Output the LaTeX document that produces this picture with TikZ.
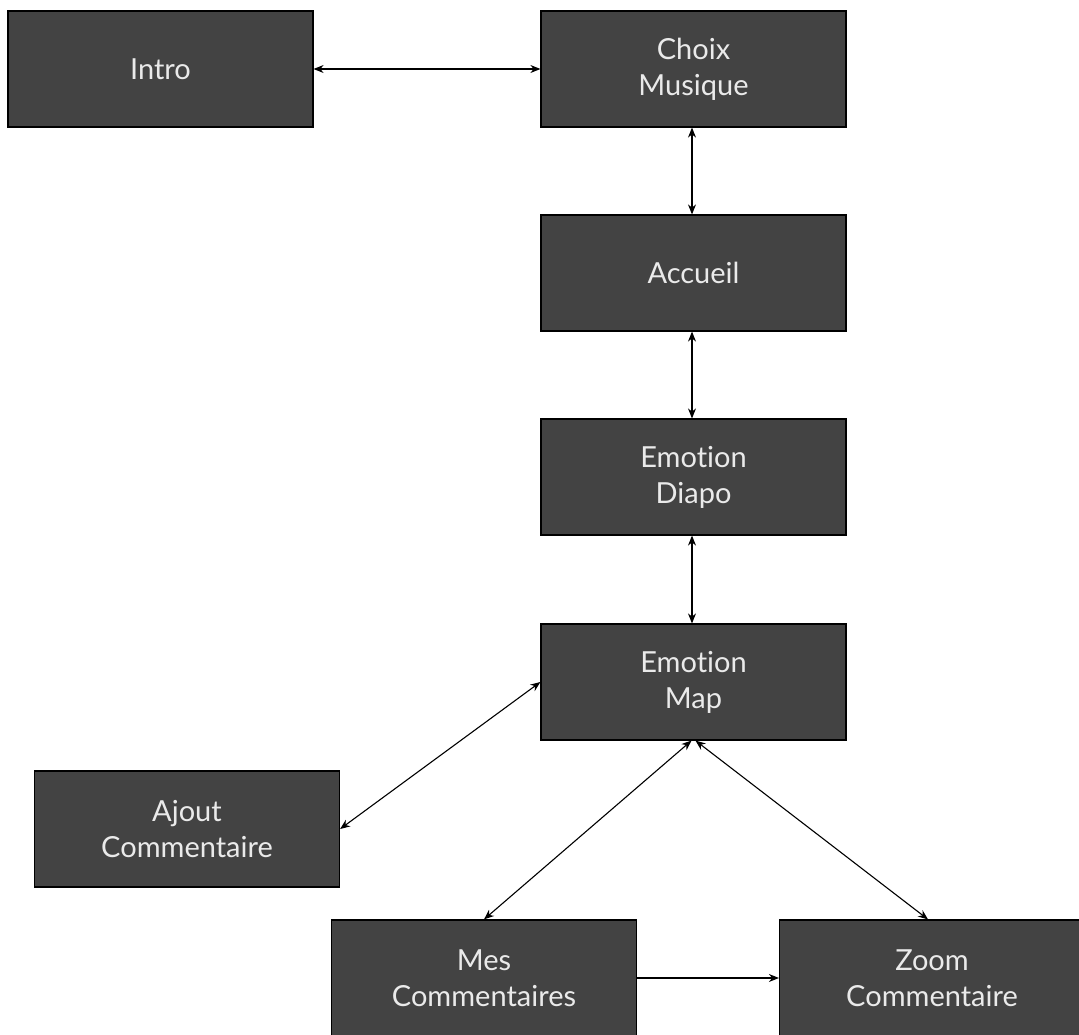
\documentclass[tikz,border=0pt]{standalone}
\usepackage{fontspec}
\setmainfont[Ligatures={NoCommon}]{Lato}
\usetikzlibrary{arrows.meta}
\definecolor{boxfill}{HTML}{434343}
\definecolor{boxtext}{HTML}{EAEAEA}
\begin{document}
\begin{tikzpicture}[x=1pt,y=-1pt,
  box/.style={draw=black,line width=1.2pt,fill=boxfill,text=boxtext,
    minimum width=305pt,minimum height=116pt,inner sep=0pt,align=center,
    font=\fontsize{29}{36}\selectfont},
  tipA/.tip={Stealth[length=10pt,width=8pt]},
  link/.style={line width=1.1pt,tipA-tipA},
  onelink/.style={line width=1.1pt,-tipA}]
\useasboundingbox (0,0) rectangle (1079,1035);
\clip (0,0) rectangle (1079,1035);
\node[box] (intro) at (160.5,69) {Intro};
\node[box] (choix) at (693.5,69) {Choix\\Musique};
\node[box] (accueil) at (693.5,273) {Accueil};
\node[box] (diapo) at (693.5,477) {Emotion\\Diapo};
\node[box] (map) at (693.5,682) {Emotion\\Map};
\node[box] (ajout) at (187,829) {Ajout\\Commentaire};
\node[box] (mes) at (484,978) {Mes\\Commentaires};
\node[box] (zoom) at (932,978) {Zoom\\Commentaire};
\draw[link] (intro.east) -- (choix.west);
\draw[link] (choix.south -| 692,0) -- (accueil.north -| 692,0);
\draw[link] (accueil.south -| 692,0) -- (diapo.north -| 692,0);
\draw[link] (diapo.south -| 692,0) -- (map.north -| 692,0);
\draw[link] (map.west) -- (ajout.east);
\draw[link] ([xshift=-2pt]map.south) -- (mes.north);
\draw[link] ([xshift=2pt]map.south) -- ([xshift=-4pt]zoom.north);
\draw[onelink] (mes.east) -- (zoom.west);
\end{tikzpicture}
\end{document}
